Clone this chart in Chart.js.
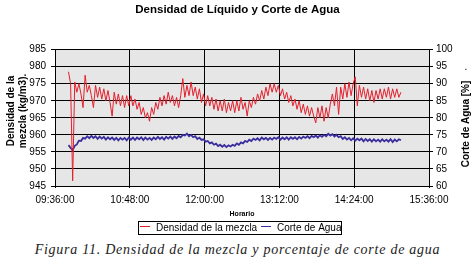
<!DOCTYPE html>
<html><head><meta charset="utf-8">
<script src="https://cdn.jsdelivr.net/npm/chart.js@4"></script>
<style>
html,body{margin:0;padding:0;background:#fff;width:475px;height:274px;overflow:hidden}
#wrap{position:absolute;left:0;top:0;width:475px;height:240px}
#cap{position:absolute;left:0;top:242px;width:475px;text-align:center;font:italic 14px "Liberation Serif",serif;letter-spacing:0.75px;color:#222;line-height:16px;white-space:nowrap}
</style></head><body>
<div id="wrap"><canvas id="c" width="475" height="240"></canvas></div>
<div id="cap">Figura 11. Densidad de la mezcla y porcentaje de corte de agua</div>
<script>
// ---- data ----
const timeTicks = ["09:36:00","10:48:00","12:00:00","13:12:00","14:24:00","15:36:00"];
const axisStartClock = "09:36";
const axisEndClock = "15:36";

// Densidad de la mezcla (kg/m3), sampled every 2 min from 09:49
const densityStartClock = "09:49";
const densityStepMin = 2;
const densidadMezcla = [
  978.5, 975, 946.5, 975.5, 972.5, 975, 972, 968, 977.5, 972.5,
  974.5, 971.5, 968, 974.5, 971, 974, 970.5, 973.5, 970, 973,
  969.5, 965.5, 972.5, 969, 972, 968.5, 971.5, 968, 971.5, 968.5,
  971.5, 968.5, 970.5, 967.5, 969.5, 966, 968, 965, 966.5, 964,
  968, 966, 969.5, 967.5, 971, 968.5, 971.5, 969, 972.5, 969.5,
  971.5, 968.5, 971, 968, 971.5, 976.5, 971, 974.5, 971.5, 975.5,
  971.5, 974, 970.5, 973.5, 969.5, 972, 968.5, 971.5, 968.5, 971,
  967.5, 970.5, 967, 970, 967, 970.5, 966.5, 969.5, 967, 970,
  966.5, 970, 967, 971, 967.5, 969.5, 965.5, 970, 968, 971,
  969, 972, 970, 973, 970.5, 974, 971.5, 975, 972.5, 975,
  972.5, 974.5, 971.5, 973.5, 970.5, 972.5, 969.5, 971.5, 968.5, 970.5,
  967.5, 970, 966.5, 969, 966, 968.5, 965.5, 968, 965.5, 963.5,
  968, 965, 968.5, 964, 968, 965, 969, 972, 968.5, 974,
  966, 974, 970.5, 975, 971, 975.5, 971.5, 975, 977, 968.5,
  974.5, 971, 974, 970.5, 973.5, 970, 973, 969.5, 973, 970.5,
  973.5, 970.5, 973.5, 971, 974, 970.5, 973.5, 971, 973.5, 971,
  972.5
];

// Corte de Agua (%), sampled every 2 min from 09:49
const corteStartClock = "09:49";
const corteStepMin = 2;
const corteAgua = [
  72, 71.2, 70.5, 71.8, 72.2, 73.3, 73.2, 74.1, 73.9, 74.6,
  74, 74.7, 74.1, 74.6, 73.8, 74.5, 73.9, 74.4, 73.6, 74.3,
  73.7, 74.2, 73.5, 74.1, 73.4, 74.1, 73.6, 74.1, 73.4, 74.2,
  73.6, 74.2, 73.5, 74.2, 73.7, 74.3, 73.5, 74.2, 73.6, 74.1,
  73.5, 74.2, 73.7, 74.4, 73.8, 74.3, 73.6, 74.4, 73.9, 74.5,
  73.8, 74.5, 74.0, 74.7, 74.3, 75.0, 74.8, 75.4, 74.6, 75.0,
  74.3, 74.6, 73.8, 74.2, 73.5, 73.7, 73.0, 73.2, 72.5, 72.8,
  72.1, 72.4, 71.7, 72.1, 71.5, 72.0, 71.4, 71.9, 71.6, 72.1,
  71.8, 72.5, 72.1, 72.8, 72.5, 73.2, 72.9, 73.6, 73.2, 73.9,
  73.5, 74.0, 73.4, 74.2, 73.7, 74.1, 73.5, 74.1, 73.6, 74.2,
  73.8, 74.3, 73.6, 74.2, 73.7, 74.3, 73.6, 74.3, 73.8, 74.3,
  73.7, 74.4, 73.9, 74.5, 74.1, 74.6, 74.0, 74.7, 74.3, 74.8,
  74.2, 74.9, 74.4, 75.0, 74.6, 75.3, 74.8, 75.2, 74.5, 75.0,
  74.3, 74.6, 73.8, 74.3, 73.6, 74.1, 73.4, 74.0, 73.3, 73.9,
  73.4, 73.9, 73.1, 73.8, 73.2, 73.7, 73.0, 73.7, 73.1, 73.6,
  73.0, 73.7, 73.1, 73.6, 73.0, 73.7, 72.9, 73.6, 73.1, 73.7,
  73.4
];

// ---- helpers ----
function clockMin(s){ const p = s.split(':').map(Number); return p[0]*60 + p[1]; }
const t0 = clockMin(axisStartClock);
function series(startClock, step, vals){
  const s = clockMin(startClock) - t0;
  return vals.map((v,i)=>({x: s + i*step, y: v}));
}

const FONT = '"Liberation Sans", Arial, sans-serif';
const RED = 'rgb(228,32,45)';
const BLUE = 'rgb(58,46,158)';

const decor = {
  id: 'decor',
  beforeDraw(chart){
    const {ctx, chartArea: a} = chart;
    ctx.save();
    ctx.fillStyle = '#fff';
    ctx.fillRect(0,0,chart.width,chart.height);
    ctx.fillStyle = '#e6e6e6';
    ctx.fillRect(a.left, a.top, a.right-a.left, a.bottom-a.top);
    ctx.restore();
  },
  afterDraw(chart){
    const ctx = chart.ctx;
    ctx.save();
    ctx.fillStyle = '#000';
    ctx.font = 'bold 10px ' + FONT;
    ctx.textAlign = 'center';
    ctx.textBaseline = 'middle';
    // left axis title (two lines)
    ctx.save(); ctx.translate(11, 111); ctx.rotate(-Math.PI/2); ctx.fillText('Densidad de la', 0, 0); ctx.restore();
    ctx.save(); ctx.translate(23, 111); ctx.rotate(-Math.PI/2); ctx.fillText('mezcla (kg/m3).', 0, 0); ctx.restore();
    // right axis title
    ctx.save(); ctx.translate(466, 124); ctx.rotate(-Math.PI/2); ctx.fillText('Corte de Agua [%]', 0, 0); ctx.restore();
    ctx.textBaseline = 'alphabetic';
    ctx.font = '10px ' + FONT;
    ctx.fillText('.', 466, 70);
    // legend
    ctx.strokeStyle = '#000';
    ctx.lineWidth = 1;
    ctx.strokeRect(138.5, 221.5, 203, 13);
    ctx.strokeStyle = RED;
    ctx.beginPath(); ctx.moveTo(140, 226.5); ctx.lineTo(150, 226.5); ctx.stroke();
    ctx.strokeStyle = BLUE;
    ctx.beginPath(); ctx.moveTo(261, 226.5); ctx.lineTo(271, 226.5); ctx.stroke();
    ctx.fillStyle = '#000';
    ctx.font = '10px ' + FONT;
    ctx.textAlign = 'left';
    ctx.textBaseline = 'middle';
    ctx.fillText('Densidad de la mezcla', 156, 228.5);
    ctx.fillText('Corte de Agua', 277, 228.5);
    ctx.restore();
  }
};

new Chart(document.getElementById('c'), {
  type: 'line',
  data: {
    datasets: [
      { label: 'Densidad de la mezcla', data: series(densityStartClock, densityStepMin, densidadMezcla),
        yAxisID: 'y', borderColor: RED, borderWidth: 1, pointRadius: 0, tension: 0, fill: false },
      { label: 'Corte de Agua', data: series(corteStartClock, corteStepMin, corteAgua),
        yAxisID: 'y1', borderColor: BLUE, borderWidth: 1.8, pointRadius: 0, tension: 0, fill: false }
    ]
  },
  options: {
    responsive: false,
    devicePixelRatio: 1,
    animation: false,
    layout: { padding: 0 },
    plugins: {
      legend: { display: false },
      tooltip: { enabled: false },
      title: { display: true, text: 'Densidad de Líquido y Corte de Agua', color: '#000',
        font: { family: FONT, size: 11.5, weight: 'bold' }, padding: { top: 3, bottom: 32.8 } }
    },
    scales: {
      x: {
        type: 'linear', position: 'bottom', min: 0, max: clockMin(axisEndClock) - t0,
        ticks: { stepSize: 72, autoSkip: false, maxRotation: 0, padding: 6, color: '#000',
          font: { family: FONT, size: 10 }, callback: (v, i) => timeTicks[i] },
        grid: { color: '#000', lineWidth: 1, tickLength: 2 },
        border: { color: '#000', width: 1 },
        title: { display: true, text: 'Horario', color: '#000', font: { family: FONT, size: 7, weight: 'bold' },
          padding: { top: 0, bottom: 21.8 } },
        afterFit: s => { s.height = 54; }
      },
      y: {
        type: 'linear', position: 'left', min: 945, max: 985,
        ticks: { stepSize: 5, padding: 5, color: '#000', font: { family: FONT, size: 10 } },
        grid: { color: '#000', lineWidth: 1, tickLength: 4 },
        border: { color: '#000', width: 1 },
        afterFit: s => { s.width = 55; }
      },
      y1: {
        type: 'linear', position: 'right', min: 60, max: 100,
        ticks: { stepSize: 5, padding: 3, color: '#000', font: { family: FONT, size: 10 } },
        grid: { drawOnChartArea: false, color: '#000', tickLength: 4 },
        border: { color: '#000', width: 1 },
        afterFit: s => { s.width = 46; }
      }
    }
  },
  plugins: [decor]
});
</script>
</body></html>
